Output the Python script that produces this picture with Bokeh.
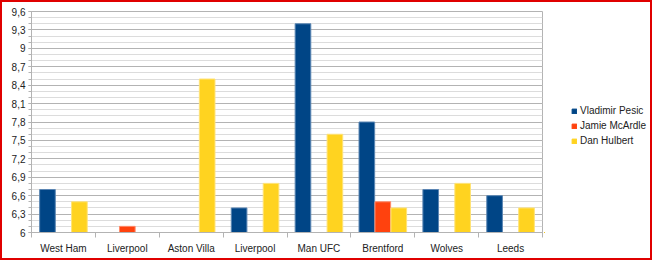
import numpy as np
from bokeh.plotting import figure
from bokeh.layouts import row
from bokeh.models import (ColumnDataSource, FixedTicker, Range1d, Legend, LegendItem)
from bokeh.transform import dodge
from bokeh.embed import file_html
from bokeh.resources import INLINE

categories = ["West Ham", "Liverpool", "Aston Villa", "Liverpool", "Man UFC",
              "Brentford", "Wolves", "Leeds"]
series_names = ["Vladimir Pesic", "Jamie McArdle", "Dan Hulbert"]
pesic = [6.7, np.nan, np.nan, 6.4, 9.4, 7.8, 6.7, 6.6]
mcardle = [np.nan, 6.1, np.nan, np.nan, np.nan, 6.5, np.nan, np.nan]
hulbert = [6.5, np.nan, 8.5, 6.8, 7.6, 6.4, 6.8, 6.4]
y_major = [6.0, 6.3, 6.6, 6.9, 7.2, 7.5, 7.8, 8.1, 8.4, 8.7, 9.0, 9.3, 9.6]
y_labels = ["6", "6,3", "6,6", "6,9", "7,2", "7,5", "7,8", "8,1", "8,4",
            "8,7", "9", "9,3", "9,6"]

colors = ["#004586", "#ff420e", "#ffd320"]
edges = ["#5b86b3", "#ff8a6a", "#ffe377"]
keys = ["pesic", "mcardle", "hulbert"]

n = len(categories)
xc = [i + 0.5 for i in range(n)]
source = ColumnDataSource(dict(x=xc, pesic=pesic, mcardle=mcardle, hulbert=hulbert))

p = figure(width=542, height=256, output_backend="svg", toolbar_location=None,
           x_range=Range1d(0, n), y_range=Range1d(6, 9.6),
           min_border_left=29, min_border_right=2, min_border_top=9,
           min_border_bottom=26)
p.background_fill_color = "white"
p.border_fill_color = "white"
p.outline_line_color = "#b3b3b3"

for key, off, c, e in zip(keys, [-0.25, 0.0, 0.25], colors, edges):
    p.vbar(x=dodge("x", off), top=key, bottom=6, width=0.245, source=source,
           fill_color=c, line_color=e, line_width=1)

# x axis: labels at centers, ticks at boundaries
p.xaxis.ticker = FixedTicker(ticks=xc, minor_ticks=list(range(n + 1)))
p.xaxis.major_label_overrides = {x: c for x, c in zip(xc, categories)}
p.xaxis.major_tick_line_color = None
p.xaxis.minor_tick_out = 5
p.xaxis.minor_tick_in = 0
p.xaxis.minor_tick_line_color = "#b3b3b3"
p.xaxis.axis_line_color = "#b3b3b3"
p.xaxis.major_label_text_font = "Liberation Sans"
p.xaxis.major_label_text_font_size = "10px"
p.xaxis.major_label_text_color = "#222222"
p.xaxis.major_label_standoff = 4

minor = [round(6 + 0.1 * i, 1) for i in range(37)]
p.yaxis.ticker = FixedTicker(ticks=y_major, minor_ticks=minor)
p.yaxis.major_label_overrides = {v: l for v, l in zip(y_major, y_labels)}
p.yaxis.major_tick_out = 3
p.yaxis.major_tick_in = 0
p.yaxis.minor_tick_out = 3
p.yaxis.minor_tick_in = 0
p.yaxis.major_tick_line_color = "#b3b3b3"
p.yaxis.minor_tick_line_color = "#b3b3b3"
p.yaxis.axis_line_color = "#b3b3b3"
p.yaxis.major_label_text_font = "Liberation Sans"
p.yaxis.major_label_text_font_size = "10px"
p.yaxis.major_label_text_color = "#222222"
p.yaxis.major_label_standoff = 3

p.xgrid.grid_line_color = None
p.ygrid.grid_line_color = "#b3b3b3"
p.ygrid.minor_grid_line_color = "#dcdcdc"

# legend panel (its ranges keep the proxy bars out of view; only the legend shows)
p2 = figure(width=106, height=256, output_backend="svg", toolbar_location=None,
            x_range=Range1d(n + 10, n + 11), y_range=Range1d(100, 101),
            min_border_left=0, min_border_right=0, min_border_top=0,
            min_border_bottom=0)
p2.axis.visible = False
p2.grid.visible = False
p2.outline_line_color = None
p2.border_fill_color = "white"
proxies = [p2.vbar(x="x", top=k, bottom=6, width=0.2, source=source, fill_color=c,
                   line_color=c) for k, c in zip(keys, colors)]
legend = Legend(items=[LegendItem(label=s, renderers=[r]) for s, r in zip(series_names, proxies)],
                location=(27, 86), orientation="vertical",
                glyph_width=6, glyph_height=6, label_height=11, spacing=4,
                label_standoff=3, padding=0, margin=0,
                label_text_font="Liberation Sans", label_text_font_size="10px",
                label_text_color="#222222",
                border_line_color=None, background_fill_alpha=0)
p2.add_layout(legend, "center")

layout = row(p, p2, spacing=0, styles={"border": "2px solid #e00000"})
open("out.html", "w").write(file_html(layout, INLINE))
